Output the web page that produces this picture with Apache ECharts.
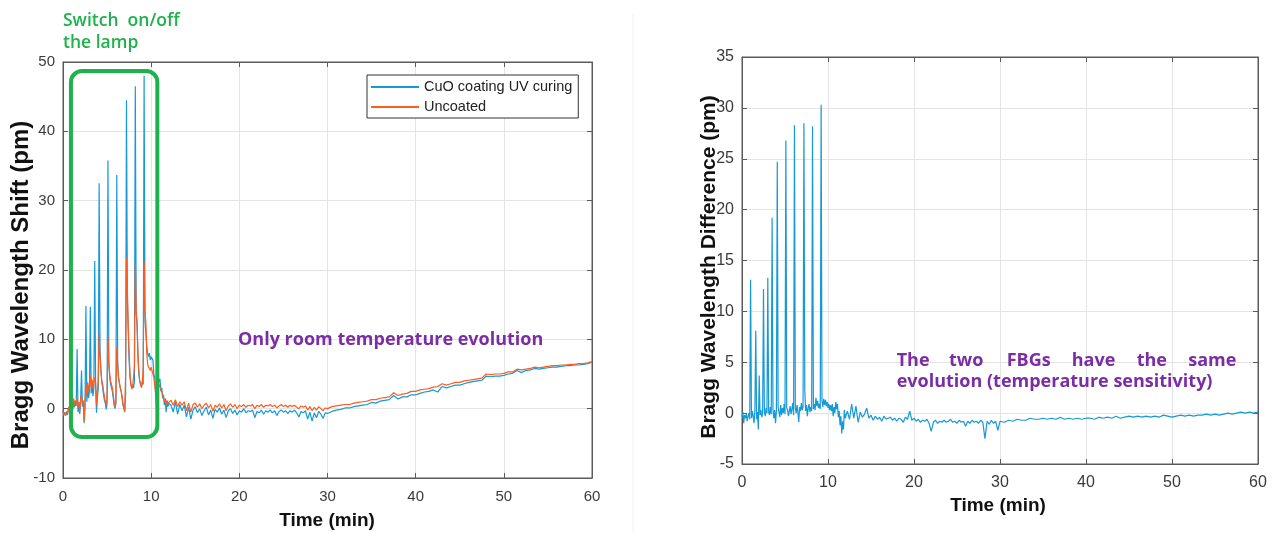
<!DOCTYPE html>
<html><head><meta charset="utf-8">
<script src="https://cdn.jsdelivr.net/npm/echarts@6/dist/echarts.min.js"></script>
<style>html,body{margin:0;padding:0;background:#fff}#c{width:1274px;height:533px}</style>
</head><body><div id="c"></div>
<script>
// sampling of the recorded time axis (min): [start, end, step]
const sampleSegments = [[0, 12, 0.1], [12.25, 30, 0.25], [30.5, 60, 0.5]];

// Left panel: Bragg wavelength shift (pm)
const cuoShift = [
  // 0 - 12 min
  -0.3,-0.8,-0.5,-1.0,-0.6,-0.9,-0.2,0.2,-0.4,0.1,
  0.6,-0.3,1.0,0.2,0.8,0.4,8.6,-0.5,0.6,-0.8,
  1.2,5.5,0.3,1.0,-2.1,0.5,14.8,1.0,3.0,1.5,
  2.5,14.7,2.2,3.5,1.8,3.0,21.3,3.2,-0.6,1.5,
  3.0,32.5,8.5,5.5,3.8,3.0,2.0,1.2,0.8,-0.1,
  0.8,35.8,6.5,4.5,3.5,3.5,2.5,1.5,0.5,0.0,
  0.7,33.7,7.0,4.5,3.5,3.0,2.5,1.5,0.5,0.0,
  -0.5,2.0,44.5,16.0,11.0,7.0,4.5,3.5,3.0,3.5,
  3.0,4.0,46.5,13.8,12.0,7.5,5.0,4.0,3.5,3.2,
  4.0,3.5,48.0,12.5,11.0,9.0,8.0,7.5,8.0,7.0,
  7.5,7.5,7.0,5.0,4.5,2.0,0.3,2.5,3.5,4.0,
  4.3,2.5,3.0,1.5,2.0,0.5,1.2,-0.5,1.0,0.3,
  0.8,
  // 12.25 - 30 min
  0.5,-0.5,1.0,-0.8,0.6,-0.3,0.5,-1.2,0.2,-1.5,
  -0.2,0.3,-0.6,0.0,-1.0,-0.3,0.2,-0.9,-0.2,-1.4,
  -0.1,-0.5,0.1,-0.8,-0.2,-1.3,-0.3,0.0,-0.7,-0.2,
  -0.9,-0.3,-0.5,0.0,-0.6,-0.3,-0.4,-0.2,-1.3,-0.4,
  -0.6,-0.2,-0.8,-0.3,-0.5,-0.2,-0.6,-0.3,-1.0,-0.4,
  -0.2,-0.5,-0.3,-0.7,-0.3,-0.5,-0.2,-0.6,-1.2,-0.4,
  -0.6,-0.3,-1.5,-0.5,-1.8,-0.6,-1.3,-0.4,-0.8,-1.4,
  -0.6,-0.7,
  // 30.5 - 60 min
  -0.4,-0.2,-0.1,0.1,0.1,0.3,0.4,0.5,0.6,0.9,
  0.8,1.1,1.2,1.3,1.9,1.4,1.7,1.7,2.0,2.0,
  2.2,2.4,2.5,2.7,2.4,3.2,3.0,3.2,3.4,3.4,
  3.6,3.8,3.9,4.0,4.1,4.7,4.6,4.7,4.7,4.8,
  5.0,5.1,5.5,5.2,5.5,5.6,5.8,5.7,5.8,5.9,
  6.0,6.0,6.1,6.2,6.2,6.3,6.3,6.4,6.5,6.7
];
const uncoatedShift = [
  -0.5,-1.0,-0.6,-0.9,-0.4,-0.8,0.0,0.3,-0.2,0.2,
  1.0,0.3,1.5,0.5,1.2,0.8,1.5,0.2,1.0,-0.5,
  1.5,2.0,0.8,1.2,-1.8,1.0,3.5,1.8,3.8,2.5,
  3.5,4.8,3.0,4.2,2.8,3.5,4.5,3.8,0.5,2.5,
  4.0,11.0,7.5,5.5,4.0,3.5,2.5,1.8,1.0,0.5,
  1.5,10.3,6.5,5.0,4.0,3.8,3.0,2.0,1.0,0.3,
  1.0,8.8,6.0,4.5,3.8,3.0,2.5,1.8,0.8,0.2,
  -0.3,5.0,21.7,17.0,12.0,8.0,5.0,3.5,2.8,3.2,
  3.0,6.0,20.9,14.0,12.5,8.0,5.5,4.0,3.5,3.0,
  3.8,6.0,21.2,14.0,12.5,8.0,6.5,6.0,6.2,5.5,
  6.0,5.5,5.0,4.5,4.5,2.5,1.0,2.0,3.0,3.5,
  3.3,2.8,2.5,2.0,1.8,1.0,1.5,0.5,1.2,0.8,
  1.0,
  1.2,0.5,1.3,0.3,1.0,0.5,1.0,-0.3,0.8,-0.5,
  0.6,0.8,0.2,0.7,0.0,0.5,0.8,0.1,0.6,-0.4,
  0.5,0.2,0.7,0.1,0.6,-0.3,0.4,0.7,0.2,0.6,
  0.0,0.5,0.3,0.6,0.2,0.5,0.4,0.6,0.0,0.5,
  0.3,0.6,0.2,0.5,0.4,0.6,0.3,0.5,0.1,0.4,
  0.6,0.3,0.5,0.2,0.5,0.3,0.5,0.2,0.0,0.4,
  0.2,0.4,-0.2,0.3,-0.3,0.2,-0.2,0.3,0.0,-0.3,
  0.1,0.0,
  0.3,0.4,0.5,0.6,0.6,0.8,0.9,1.0,1.1,1.3,
  1.3,1.5,1.6,1.7,2.3,1.9,2.1,2.2,2.5,2.5,
  2.7,2.8,2.9,3.1,3.2,3.6,3.4,3.6,3.8,3.8,
  4.0,4.1,4.2,4.3,4.4,5.0,4.9,5.0,5.0,5.1,
  5.3,5.3,5.7,5.6,5.7,5.8,6.0,5.9,6.0,6.1,
  6.2,6.2,6.3,6.3,6.4,6.4,6.5,6.5,6.6,6.8
];

// Right panel: Bragg wavelength difference (pm)
const wavelengthDiff = [
  -0.3,0.1,-1.0,-0.2,-0.5,-0.1,-0.8,-0.3,0.0,-0.6,
  13.1,-0.5,0.2,-0.3,-1.0,0.3,8.1,-0.6,0.1,-1.6,
  3.7,-0.2,0.3,-0.4,0.0,12.2,0.2,-0.3,0.5,0.0,
  13.3,0.1,-0.2,0.6,-0.1,19.2,0.4,-0.5,0.3,-1.0,
  0.2,24.7,0.6,0.1,-0.4,0.8,-0.2,0.5,0.0,0.9,
  -0.1,26.8,0.5,0.3,-0.3,0.2,0.7,-0.1,0.4,1.0,
  -0.2,28.3,0.5,0.0,0.8,0.1,-0.9,0.6,0.2,1.0,
  0.3,0.6,28.5,2.3,0.2,0.8,-0.3,0.5,0.9,0.1,
  0.6,0.2,28.2,0.4,0.9,0.3,1.5,0.7,1.2,0.5,
  0.9,0.4,30.3,1.2,0.6,1.4,0.8,1.3,0.7,1.1,
  0.5,0.9,0.3,0.8,0.2,0.9,-0.3,0.6,0.0,1.1,
  0.4,0.9,-0.4,0.2,-1.2,-0.3,-2.0,-0.8,-1.6,0.3,
  -0.5,
  0.2,-0.6,0.9,-0.5,0.7,-0.9,0.1,-0.4,-0.1,0.5,
  -0.5,-0.2,-0.7,-0.3,-0.6,-0.4,-0.8,-0.3,-0.6,-0.5,
  -0.4,-0.7,-0.5,-0.8,-0.5,-0.6,-0.9,-0.4,-0.6,0.2,
  -0.7,-0.5,-0.8,-0.6,-0.9,-0.7,-0.8,-0.6,-1.0,-1.8,
  -0.9,-0.7,-1.0,-0.8,-0.9,-0.7,-0.9,-0.8,-0.6,-0.9,
  -0.8,-1.0,-0.7,-0.9,-0.8,-1.3,-0.8,-1.0,-0.7,-0.9,
  -0.8,-1.0,-0.7,-0.9,-2.5,-0.8,-1.1,-0.7,-1.0,-0.8,
  -1.7,-0.8,
  -0.9,-0.7,-0.8,-0.6,-0.7,-0.7,-0.5,-0.6,-0.6,-0.5,
  -0.6,-0.5,-0.6,-0.4,-0.6,-0.5,-0.6,-0.5,-0.6,-0.5,
  -0.5,-0.6,-0.4,-0.5,-0.4,-0.5,-0.3,-0.5,-0.4,-0.3,
  -0.4,-0.3,-0.4,-0.3,-0.4,-0.3,-0.4,-0.2,-0.3,-0.4,
  -0.3,-0.2,-0.3,-0.2,-0.3,-0.2,-0.2,-0.1,-0.2,-0.1,
  -0.2,-0.1,0.0,-0.1,0.0,0.1,0.0,0.1,0.0,0.1
];

const seriesNames = ['CuO coating UV curing', 'Uncoated'];
const xTicks = {min: 0, max: 60, interval: 10};
const yTicksLeft = {min: -10, max: 50, interval: 10};
const yTicksRight = {min: -5, max: 35, interval: 5};

// time stamps of the samples
const timeMin = [];
sampleSegments.forEach(([s, e, st]) => {
  const n = Math.round((e - s) / st) + 1;
  for (let i = 0; i < n; i++) timeMin.push(+(s + i * st).toFixed(2));
});
const pairs = arr => arr.map((v, i) => [timeMin[i], v]);

const BLUE = '#1699d6', ORANGE = '#fa5e22', FRAME = '#5a5a5a', GRID = '#e4e4e4', TICKTXT = '#3a3a3a';
const tickFont = 'Liberation Sans, Arial, sans-serif';

function xAx(grid, fs, top) {
  return {
    type: 'value', gridIndex: grid, position: top ? 'top' : 'bottom',
    min: xTicks.min, max: xTicks.max, interval: xTicks.interval,
    axisLine: {show: true, onZero: false, lineStyle: {color: FRAME, width: 1}},
    axisTick: {show: true, inside: true, length: 5, lineStyle: {color: FRAME}},
    axisLabel: {show: !top, fontSize: fs, color: TICKTXT, fontFamily: tickFont, margin: 11},
    splitLine: {show: !top, lineStyle: {color: GRID, width: 1}}
  };
}
function yAx(grid, t, fs, right) {
  return {
    type: 'value', gridIndex: grid, position: right ? 'right' : 'left',
    min: t.min, max: t.max, interval: t.interval,
    axisLine: {show: true, onZero: false, lineStyle: {color: FRAME, width: 1}},
    axisTick: {show: true, inside: true, length: 5, lineStyle: {color: FRAME}},
    axisLabel: {show: !right, fontSize: fs, color: TICKTXT, fontFamily: tickFont, margin: 8},
    splitLine: {show: !right, lineStyle: {color: GRID, width: 1}}
  };
}

const chart = echarts.init(document.getElementById('c'), null, {renderer: 'canvas'});
chart.setOption({
  animation: false,
  backgroundColor: '#fff',
  grid: [
    {left: 63, top: 62, width: 529, height: 416, show: true, borderColor: FRAME, borderWidth: 1, backgroundColor: '#fff'},
    {left: 742, top: 57, width: 516, height: 407, show: true, borderColor: FRAME, borderWidth: 1, backgroundColor: '#fff'}
  ],
  xAxis: [xAx(0, 15), xAx(1, 16), xAx(0, 15, true), xAx(1, 16, true)],
  yAxis: [yAx(0, yTicksLeft, 15), yAx(1, yTicksRight, 16), yAx(0, yTicksLeft, 15, true), yAx(1, yTicksRight, 16, true)],
  legend: {
    data: seriesNames.map(n => ({name: n, icon: 'rect'})),
    orient: 'vertical', left: 367, top: 75,
    padding: [4, 6, 3, 4], itemGap: 4, itemWidth: 48, itemHeight: 2,
    borderColor: '#333', borderWidth: 1, backgroundColor: '#fff', selectedMode: false,
    textStyle: {fontSize: 14.5, fontFamily: tickFont, color: '#222', lineHeight: 16}
  },
  series: [
    {name: seriesNames[0], type: 'line', xAxisIndex: 0, yAxisIndex: 0, data: pairs(cuoShift),
     showSymbol: false, symbol: 'none', lineStyle: {color: BLUE, width: 1.2}, itemStyle: {color: BLUE}, z: 3},
    {name: seriesNames[1], type: 'line', xAxisIndex: 0, yAxisIndex: 0, data: pairs(uncoatedShift),
     showSymbol: false, symbol: 'none', lineStyle: {color: ORANGE, width: 1.2}, itemStyle: {color: ORANGE}, z: 4},
    {name: 'Difference', type: 'line', xAxisIndex: 1, yAxisIndex: 1, data: pairs(wavelengthDiff),
     showSymbol: false, symbol: 'none', lineStyle: {color: BLUE, width: 1.2}, itemStyle: {color: BLUE}, z: 3}
  ]
});

// annotation: lamp on/off box in data coordinates [min, pm]
const lampBox = {t0: 0.9, t1: 10.7, yTop: 48.7, yBottom: -4.1};
const p0 = chart.convertToPixel({gridIndex: 0}, [lampBox.t0, lampBox.yTop]);
const p1 = chart.convertToPixel({gridIndex: 0}, [lampBox.t1, lampBox.yBottom]);

const GREEN = '#1db24b', PURPLE = '#7b2da4';
const annFont = '"Open Sans", "Noto Sans", sans-serif';
const txt = (text, x, y, o) => Object.assign({
  type: 'text', x, y, z: 100,
  style: Object.assign({text, fontFamily: annFont, fontSize: 17, fill: '#000', align: 'left', verticalAlign: 'middle'}, o || {})
});
const rightLine1 = [['The', 896.7], ['two', 949], ['FBGs', 1006.7], ['have', 1071.7], ['the', 1136.7], ['same', 1188.3]];

chart.setOption({
  graphic: [
    {type: 'line', z: 0, shape: {x1: 633, y1: 14, x2: 633, y2: 533}, style: {stroke: '#f3f3f3', lineWidth: 1}},
    {type: 'rect', z: 90, shape: {x: p0[0], y: p0[1], width: p1[0] - p0[0], height: p1[1] - p0[1], r: 11},
     style: {fill: 'none', stroke: GREEN, lineWidth: 4}},
    txt('Switch  on/off', 63, 21, {fill: GREEN, fontSize: 17.5, fontWeight: 600}),
    txt('the lamp', 63, 43, {fill: GREEN, fontSize: 17.5, fontWeight: 600}),
    txt('Only room temperature evolution', 238, 340, {fill: PURPLE, fontWeight: 'bold', fontSize: 18}),
    ...rightLine1.map(([w, x]) => txt(w, x, 361, {fill: PURPLE, fontWeight: 'bold', fontSize: 18})),
    txt('evolution (temperature sensitivity)', 896.7, 382, {fill: PURPLE, fontWeight: 'bold', fontSize: 18}),
    // axis titles
    txt('Time (min)', 327, 521, {fontFamily: tickFont, fontWeight: 'bold', fontSize: 19, align: 'center', fill: '#111'}),
    txt('Time (min)', 998, 506, {fontFamily: tickFont, fontWeight: 'bold', fontSize: 19, align: 'center', fill: '#111'}),
    Object.assign(txt('Bragg Wavelength Shift (pm)', 21, 285, {fontFamily: tickFont, fontWeight: 'bold', fontSize: 24, align: 'center', fill: '#111'}), {rotation: Math.PI / 2}),
    Object.assign(txt('Bragg Wavelength Difference (pm)', 709, 267, {fontFamily: tickFont, fontWeight: 'bold', fontSize: 21, align: 'center', fill: '#111'}), {rotation: Math.PI / 2})
  ]
});
</script>
</body></html>
